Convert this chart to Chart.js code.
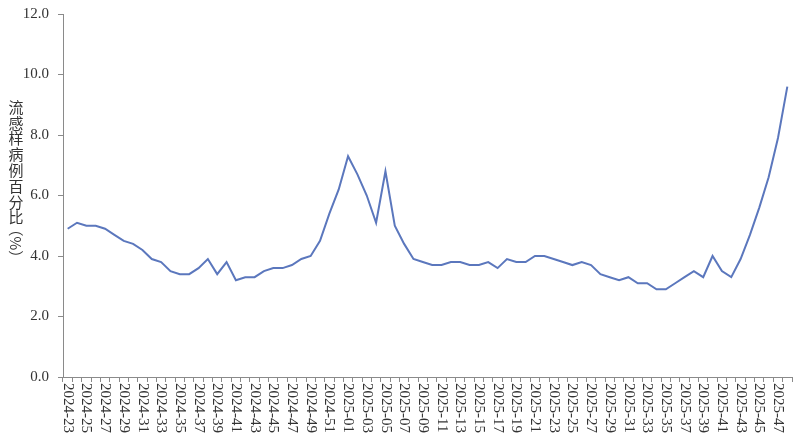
<!DOCTYPE html>
<html>
<head>
<meta charset="utf-8">
<script src="https://cdn.jsdelivr.net/npm/chart.js@4.4.1/dist/chart.umd.min.js"></script>
<style>
  html, body { margin: 0; padding: 0; background: #fff; }
  #wrap { width: 807px; height: 447px; position: relative; }
</style>
</head>
<body>
<div id="wrap"><canvas id="fluChart"></canvas></div>
<script>
// weeks 2024-23 .. 2024-52, 2025-01 .. 2025-48
const weeks2024 = [];
for (let w = 23; w <= 52; w++) weeks2024.push('2024-' + String(w).padStart(2, '0'));
const weeks2025 = [];
for (let w = 1; w <= 48; w++) weeks2025.push('2025-' + String(w).padStart(2, '0'));
const weekLabels = weeks2024.concat(weeks2025);

// ILI percentage, 2024 part
const ili2024 = [4.9, 5.1, 5.0, 5.0, 4.9, 4.7, 4.5, 4.4, 4.2, 3.9,
                 3.8, 3.5, 3.4, 3.4, 3.6, 3.9, 3.4, 3.8, 3.2, 3.3,
                 3.3, 3.5, 3.6, 3.6, 3.7, 3.9, 4.0, 4.5, 5.4, 6.2];
// ILI percentage, 2025 part
const ili2025 = [7.3, 6.7, 6.0, 5.1, 6.8, 5.0, 4.4, 3.9, 3.8, 3.7,
                 3.7, 3.8, 3.8, 3.7, 3.7, 3.8, 3.6, 3.9, 3.8, 3.8,
                 4.0, 4.0, 3.9, 3.8, 3.7, 3.8, 3.7, 3.4, 3.3, 3.2,
                 3.3, 3.1, 3.1, 2.9, 2.9, 3.1, 3.3, 3.5, 3.3, 4.0,
                 3.5, 3.3, 3.9, 4.7, 5.6, 6.6, 7.9, 9.6];
const iliValues = ili2024.concat(ili2025);

const yTitleChars = ['流', '感', '样', '病', '例', '百', '分', '比'];

const axisColor = '#8a8a8a';
const textColor = '#333333';
const serif = '"Liberation Serif", "Times New Roman", serif';

// x labels read top-to-bottom, every second week
const rotatedXLabels = {
    id: 'rotatedXLabels',
    afterDraw(chart) {
        const ctx = chart.ctx;
        const xs = chart.scales.x;
        ctx.save();
        ctx.fillStyle = textColor;
        ctx.font = '15px ' + serif;
        ctx.textAlign = 'left';
        ctx.textBaseline = 'middle';
        weekLabels.forEach((lab, i) => {
            if (i % 2 !== 0) return;
            const x = xs.getPixelForValue(i);
            ctx.save();
            ctx.translate(x, xs.top + 6);
            ctx.rotate(Math.PI / 2);
            ctx.fillText(lab, 0, 0);
            ctx.restore();
        });
        ctx.restore();
    }
};

// stacked vertical y-axis title
const verticalYTitle = {
    id: 'verticalYTitle',
    afterDraw(chart) {
        const ctx = chart.ctx;
        ctx.save();
        ctx.fillStyle = textColor;
        ctx.font = '15px "Noto Sans CJK SC", sans-serif';
        ctx.textAlign = 'center';
        ctx.textBaseline = 'middle';
        let y = 107;
        yTitleChars.forEach(ch => {
            ctx.fillText(ch, 16, y);
            y += 15.8;
        });
        ctx.translate(16, y + 10);
        ctx.rotate(Math.PI / 2);
        ctx.fillText('（%）', 0, 0);
        ctx.restore();
    }
};

new Chart(document.getElementById('fluChart'), {
    type: 'line',
    data: {
        labels: weekLabels,
        datasets: [{
            data: iliValues,
            borderColor: '#5b77bd',
            borderWidth: 2,
            pointRadius: 0,
            tension: 0,
            fill: false
        }]
    },
    options: {
        responsive: true,
        maintainAspectRatio: false,
        animation: false,
        layout: { padding: { top: 14, right: 15, left: 0, bottom: 0 } },
        plugins: {
            legend: { display: false },
            tooltip: { enabled: false }
        },
        scales: {
            x: {
                offset: true,
                grid: {
                    offset: true,
                    drawOnChartArea: false,
                    drawTicks: true,
                    tickLength: 5,
                    color: axisColor
                },
                border: { color: axisColor, width: 1 },
                ticks: { display: false },
                afterFit(scale) { scale.height = 70; }
            },
            y: {
                min: 0,
                max: 12,
                grid: {
                    drawOnChartArea: false,
                    drawTicks: true,
                    tickLength: 5,
                    color: axisColor
                },
                border: { color: axisColor, width: 1 },
                ticks: {
                    stepSize: 2,
                    color: textColor,
                    padding: 9,
                    font: { family: serif, size: 15 },
                    callback: v => v.toFixed(1)
                },
                afterFit(scale) {
                    scale.width = 63;
                    scale.paddingTop = 0;
                    scale.paddingBottom = 0;
                }
            }
        }
    },
    plugins: [rotatedXLabels, verticalYTitle]
});
</script>
</body>
</html>
